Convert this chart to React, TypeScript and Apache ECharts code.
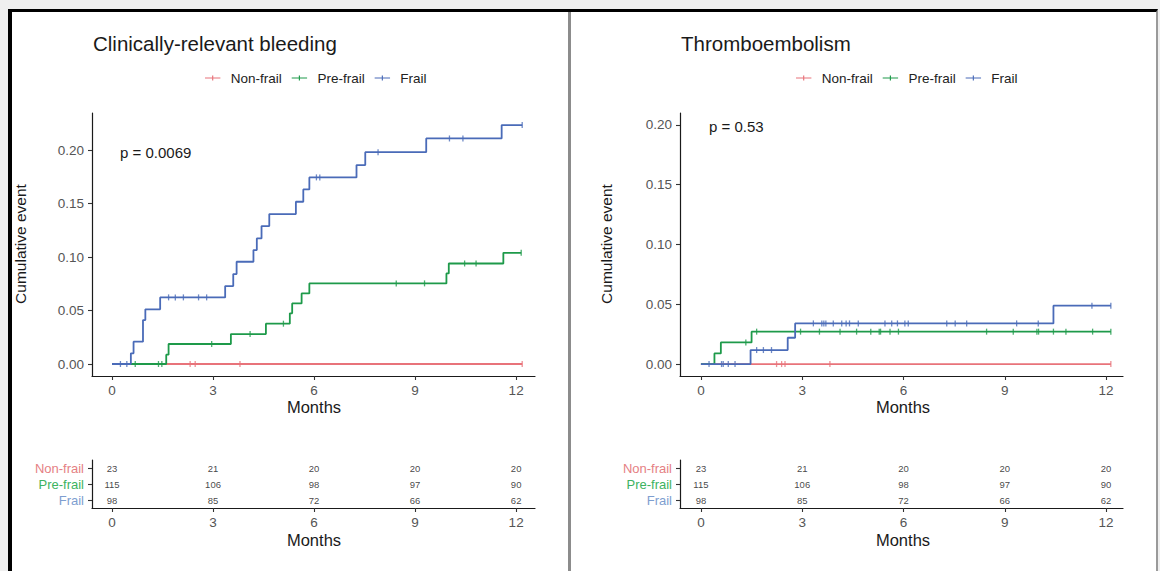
import React, { useEffect, useRef } from "react";
import * as echarts from "echarts";

// ---------- data ----------
const monthTicks = [0, 3, 6, 9, 12];
const yTicks = [0, 0.05, 0.1, 0.15, 0.2];
const groups = ["Non-frail", "Pre-frail", "Frail"];
const lineColors = ["#E8737A", "#1E9A4A", "#4A6BB8"];
const tableLabelColors = ["#E57F84", "#3DB360", "#7E9ED0"];

// risk table (numbers at risk at 0,3,6,9,12 months)
const riskNonfrail = [23, 21, 20, 20, 20];
const riskPrefrail = [115, 106, 98, 97, 90];
const riskFrail = [98, 85, 72, 66, 62];

// Clinically-relevant bleeding: step times (months) and cumulative event values
const bleedNonfrailTimes = [0, 12.18];
const bleedNonfrailValues = [0, 0];
const bleedNonfrailCensor = [2.32, 2.47, 3.8, 12.18];

const bleedPrefrailTimes = [0, 1.61, 1.68, 3.53, 4.57, 5.28, 5.35, 5.63, 5.86, 9.93, 10.0, 11.62, 12.15];
const bleedPrefrailValues = [0, 0.0087, 0.0187, 0.028, 0.0377, 0.0474, 0.0567, 0.066, 0.0754, 0.0847, 0.094, 0.104, 0.104];
const bleedPrefrailCensor = [0.69, 1.38, 1.48, 2.96, 4.1, 5.09, 8.44, 9.28, 10.47, 10.81, 12.15];

const bleedFrailTimes = [0, 0.56, 0.64, 0.92, 0.99, 1.43, 3.36, 3.6, 3.7, 4.2, 4.3, 4.44, 4.67, 5.46, 5.68, 5.86, 7.26, 7.52, 9.33, 11.57, 12.18];
const bleedFrailValues = [0, 0.01, 0.0209, 0.0411, 0.0511, 0.0623, 0.0729, 0.0841, 0.0956, 0.1065, 0.1174, 0.129, 0.1402, 0.1517, 0.1632, 0.1745, 0.186, 0.1981, 0.2109, 0.2234, 0.2234];
const bleedFrailCensor = [0.25, 0.44, 1.68, 1.88, 2.12, 2.57, 2.81, 6.07, 6.17, 7.9, 10.02, 10.42, 12.18];

// Thromboembolism
const thrNonfrailTimes = [0, 12.14];
const thrNonfrailValues = [0, 0];
const thrNonfrailCensor = [2.24, 2.39, 2.49, 3.82, 12.14];

const thrPrefrailTimes = [0, 0.4, 0.59, 1.5, 12.14];
const thrPrefrailValues = [0, 0.0089, 0.0181, 0.0271, 0.0271];
const thrPrefrailCensor = [1.33, 1.65, 2.95, 3.51, 4.12, 4.61, 5.03, 5.28, 5.32, 5.6, 5.85, 8.46, 9.25, 9.95, 10.0, 10.44, 10.81, 11.6, 12.14];

const thrFrailTimes = [0, 1.47, 2.57, 2.79, 10.44, 12.14];
const thrFrailValues = [0, 0.0117, 0.022, 0.034, 0.0488, 0.0488];
const thrFrailCensor = [0.24, 0.61, 0.66, 0.81, 1.01, 1.65, 1.85, 2.09, 3.33, 3.58, 3.64, 3.7, 3.92, 4.17, 4.3, 4.4, 4.66, 5.45, 5.65, 5.82, 6.04, 6.14, 7.28, 7.53, 7.87, 9.35, 9.99, 11.58, 12.14];

const titles = ["Clinically-relevant bleeding", "Thromboembolism"];
const pValues = ["p = 0.0069", "p = 0.53"];

// ---------- helpers ----------
const FONT = "Liberation Sans, Arial, Helvetica, sans-serif";

function stepAt(times: number[], values: number[], t: number) {
  let v = values[0];
  for (let i = 0; i < times.length; i++) if (times[i] <= t) v = values[i];
  return v;
}

export default function App() {
  const ref = useRef<HTMLDivElement>(null);

  useEffect(() => {
    if (!ref.current) return;
    const chart = echarts.init(ref.current, undefined, { renderer: "svg" });

    const panels = [
      {
        times: [bleedNonfrailTimes, bleedPrefrailTimes, bleedFrailTimes],
        values: [bleedNonfrailValues, bleedPrefrailValues, bleedFrailValues],
        censor: [bleedNonfrailCensor, bleedPrefrailCensor, bleedFrailCensor],
        left: 92,
        xMin: -0.594,
        xMax: 12.56,
        yMin: -0.0112,
        yMax: 0.2347,
      },
      {
        times: [thrNonfrailTimes, thrPrefrailTimes, thrFrailTimes],
        values: [thrNonfrailValues, thrPrefrailValues, thrFrailValues],
        censor: [thrNonfrailCensor, thrPrefrailCensor, thrFrailCensor],
        left: 680,
        xMin: -0.62,
        xMax: 12.5,
        yMin: -0.01,
        yMax: 0.21,
      },
    ];
    const risks = [riskNonfrail, riskPrefrail, riskFrail];

    const axisLine = { show: true, onZero: false, lineStyle: { color: "#1a1a1a", width: 1.2 } };
    const axisTickBase = { show: true, length: 4, lineStyle: { color: "#333", width: 1.1 } };
    const tickLabel = { color: "#555", fontSize: 13.5, fontFamily: FONT };

    const grids: any[] = [];
    const xAxes: any[] = [];
    const yAxes: any[] = [];
    const series: any[] = [];

    panels.forEach((p, pi) => {
      grids.push({ left: p.left, top: 113, width: 443, height: 263 });
      grids.push({ left: p.left, top: 460, width: 443, height: 48 });
      for (let k = 0; k < 2; k++) {
        xAxes.push({
          type: "value",
          gridIndex: pi * 2 + k,
          min: p.xMin,
          max: p.xMax,
          axisLine,
          axisTick: { ...axisTickBase, customValues: monthTicks },
          axisLabel: { ...tickLabel, margin: 7, customValues: monthTicks },
          splitLine: { show: false },
        });
      }
      yAxes.push({
        type: "value",
        gridIndex: pi * 2,
        min: p.yMin,
        max: p.yMax,
        axisLine,
        axisTick: { ...axisTickBase, customValues: yTicks },
        axisLabel: {
          ...tickLabel,
          margin: 8,
          customValues: yTicks,
          formatter: (v: number) => v.toFixed(2),
        },
        splitLine: { show: false },
      });
      yAxes.push({
        type: "category",
        gridIndex: pi * 2 + 1,
        data: ["Frail", "Pre-frail", "Non-frail"],
        axisLine,
        axisTick: { ...axisTickBase, alignWithLabel: true, interval: 0 },
        axisLabel: {
          interval: 0,
          margin: 8,
          fontSize: 13,
          fontFamily: FONT,
          formatter: (v: string) => `{c${groups.indexOf(v)}|${v}}`,
          rich: {
            c0: { color: tableLabelColors[0], fontSize: 13, fontFamily: FONT },
            c1: { color: tableLabelColors[1], fontSize: 13, fontFamily: FONT },
            c2: { color: tableLabelColors[2], fontSize: 13, fontFamily: FONT },
          },
        },
        splitLine: { show: false },
      });

      groups.forEach((g, gi) => {
        const times = p.times[gi];
        const values = p.values[gi];
        series.push({
          type: "line",
          name: g,
          xAxisIndex: pi * 2,
          yAxisIndex: pi * 2,
          step: "end",
          symbol: "none",
          data: times.map((t, i) => [t, values[i]]),
          lineStyle: { color: lineColors[gi], width: 1.8 },
          itemStyle: { color: lineColors[gi] },
          silent: true,
        });
        series.push({
          type: "scatter",
          name: g,
          xAxisIndex: pi * 2,
          yAxisIndex: pi * 2,
          symbol: "rect",
          symbolSize: [1.3, 6],
          data: p.censor[gi].map((t) => [t, stepAt(times, values, t)]),
          itemStyle: { color: lineColors[gi] },
          silent: true,
        });
        series.push({
          type: "scatter",
          name: `${g} at risk`,
          xAxisIndex: pi * 2 + 1,
          yAxisIndex: pi * 2 + 1,
          symbolSize: 1,
          itemStyle: { color: "rgba(0,0,0,0)" },
          data: monthTicks.map((m, i) => [m, g, risks[gi][i]]),
          label: {
            show: true,
            position: "inside",
            formatter: (d: any) => String(d.value[2]),
            fontSize: 9.5,
            color: "#111",
            fontFamily: FONT,
          },
          silent: true,
        });
      });
    });

    const legendIcon = "path://M0,2h16v1.2h-16z M7.4,0h1.2v5.2h-1.2z";
    const legendBase = {
      top: 66,
      orient: "horizontal",
      itemWidth: 16,
      itemHeight: 5,
      itemGap: 10,
      selectedMode: false,
      data: groups.map((n) => ({ name: n, icon: legendIcon })),
      textStyle: { fontSize: 13.5, color: "#222", fontFamily: FONT, padding: [0, 0, 0, 5] },
    };

    const txt = (x: number, y: number, text: string, fontSize: number, align = "left", rotation = 0) => ({
      type: "text",
      x,
      y,
      rotation,
      style: {
        text,
        fontSize,
        fontFamily: FONT,
        fill: "#1a1a1a",
        align,
        verticalAlign: "middle",
      },
    });

    chart.setOption({
      animation: false,
      textStyle: { fontFamily: FONT },
      grid: grids,
      xAxis: xAxes,
      yAxis: yAxes,
      series,
      legend: [
        { ...legendBase, left: 200 },
        { ...legendBase, left: 791 },
      ],
      graphic: [
        txt(93, 43, titles[0], 20.5),
        txt(681, 43, titles[1], 20.5),
        txt(120, 152, pValues[0], 15),
        txt(709, 126, pValues[1], 15),
        txt(20, 244, "Cumulative event", 15.5, "center", Math.PI / 2),
        txt(606, 244, "Cumulative event", 15.5, "center", Math.PI / 2),
        txt(314, 407, "Months", 16.5, "center"),
        txt(903, 407, "Months", 16.5, "center"),
        txt(314, 540, "Months", 16.5, "center"),
        txt(903, 540, "Months", 16.5, "center"),
      ],
    });

    return () => chart.dispose();
  }, []);

  return (
    <div style={{ position: "fixed", left: 0, top: 0, width: 1160, height: 571, background: "#efefef", overflow: "hidden" }}>
      <div
        style={{
          position: "absolute",
          left: 8,
          top: 9,
          width: 1150,
          height: 580,
          background: "#ffffff",
          borderTop: "3px solid #000",
          borderLeft: "4px solid #000",
          borderRight: "2px solid #9a9a9a",
          boxSizing: "border-box",
        }}
      />
      <div style={{ position: "absolute", left: 568, top: 12, width: 3, height: 580, background: "#8c8c8c" }} />
      <div ref={ref} style={{ position: "absolute", left: 0, top: 0, width: 1160, height: 571 }} />
    </div>
  );
}
